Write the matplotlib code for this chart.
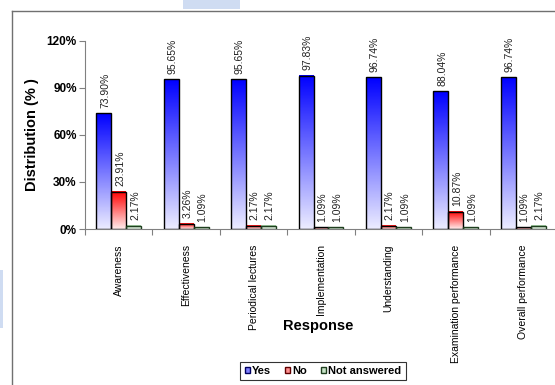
import numpy as np
import matplotlib
matplotlib.use("Agg")
import matplotlib.pyplot as plt
from matplotlib.colors import LinearSegmentedColormap
from matplotlib.patches import Patch, Rectangle
from matplotlib.lines import Line2D

plt.rcParams['font.family'] = ['Liberation Sans', 'DejaVu Sans']

# данные с картинки
categories = ['Awareness', 'Effectiveness', 'Periodical lectures', 'Implementation',
              'Understanding', 'Examination performance', 'Overall performance']
yes = [73.90, 95.65, 95.65, 97.83, 96.74, 88.04, 96.74]
no = [23.91, 3.26, 2.17, 1.09, 2.17, 10.87, 1.09]
not_answered = [2.17, 1.09, 2.17, 1.09, 1.09, 1.09, 2.17]
series_names = ['Yes', 'No', 'Not answered']

series = [yes, no, not_answered]
top_colors = ['#0000ff', '#ff0000', '#9ccc9c']
edge_colors = ['#000000', '#000000', '#1f3f1f']

fig = plt.figure(figsize=(5.55, 3.85), dpi=100)
ax = fig.add_axes([85 / 555, 1 - 229 / 385, 472 / 555, 188 / 385])

# рамка и бледные пятна фона
fig.add_artist(Line2D([12 / 555, 1], [1 - 11 / 385] * 2, color='#707070', lw=1.0))
fig.add_artist(Line2D([12 / 555] * 2, [0, 1 - 11 / 385], color='#707070', lw=1.0))
fig.add_artist(Rectangle((183 / 555, 1 - 9 / 385), 57 / 555, 9 / 385,
                         color='#cfdcf2', lw=0, transform=fig.transFigure))
fig.add_artist(Rectangle((0, 1 - 328 / 385), 3 / 555, 58 / 385,
                         color='#cfdcf2', lw=0, transform=fig.transFigure))

n = len(categories)
w = 0.222
grad = np.linspace(0, 1, 256).reshape(-1, 1)

for i, (vals, col, ec) in enumerate(zip(series, top_colors, edge_colors)):
    cmap = LinearSegmentedColormap.from_list('g%d' % i, ['#ffffff', col])
    for j, v in enumerate(vals):
        x0 = j + 0.5 - 1.5 * w + i * w
        ax.imshow(grad, extent=[x0, x0 + w, 0, v], origin='lower', cmap=cmap,
                  aspect='auto', vmin=-0.08, vmax=1, zorder=2)
        ax.add_patch(Rectangle((x0, 0), w, v, fill=False, edgecolor=ec, lw=1.0, zorder=3))
        ax.annotate('%.2f%%' % v, (x0 + w / 2 + 0.02, v), xytext=(0, 4), textcoords='offset points',
                    rotation=90, ha='center', va='bottom', fontsize=7.5, color='#222222')

ax.set_xlim(0, n)
ax.set_ylim(0, 120)
ax.set_yticks([0, 30, 60, 90, 120])
ax.set_yticklabels(['0%', '30%', '60%', '90%', '120%'], fontsize=8.5, fontweight='bold')
ax.set_xticks(np.arange(0, n + 1))
ax.set_xticklabels([])
ax.set_xticks(np.arange(n) + 0.5, minor=True)
ax.set_xticklabels(categories, minor=True, rotation=90, fontsize=7.5, va='top')
ax.tick_params(axis='x', which='minor', length=0, pad=11)
ax.tick_params(axis='x', which='major', length=4, color='#808080')
ax.tick_params(axis='y', length=4, color='#808080', pad=2)

for s in ['top', 'right']:
    ax.spines[s].set_visible(False)
ax.spines['left'].set_color('#808080')
ax.spines['bottom'].set_color('#808080')

fig.text(32 / 555, 1 - 135 / 385, 'Distribution (% )', rotation=90, ha='center', va='center',
         fontsize=10.5, fontweight='bold')
fig.text(318 / 555, 1 - 326 / 385, 'Response', ha='center', va='center',
         fontsize=10.5, fontweight='bold')

handles = [Patch(facecolor=c, edgecolor=e, lw=1.0) for c, e in
           zip(['#8080ff', '#ff9090', '#c8e4c8'], ['#000060', '#600000', '#1f3f1f'])]
leg = fig.legend(handles, series_names, loc='center', bbox_to_anchor=(323 / 555, 1 - 371 / 385),
                 ncol=3, prop={'weight': 'bold', 'size': 8}, frameon=True, fancybox=False,
                 handlelength=0.5, handleheight=0.5, handletextpad=0.2, columnspacing=1.2,
                 borderpad=0.4, edgecolor='#000000')
leg.get_frame().set_linewidth(0.8)

fig.savefig('out.png', dpi=100)
